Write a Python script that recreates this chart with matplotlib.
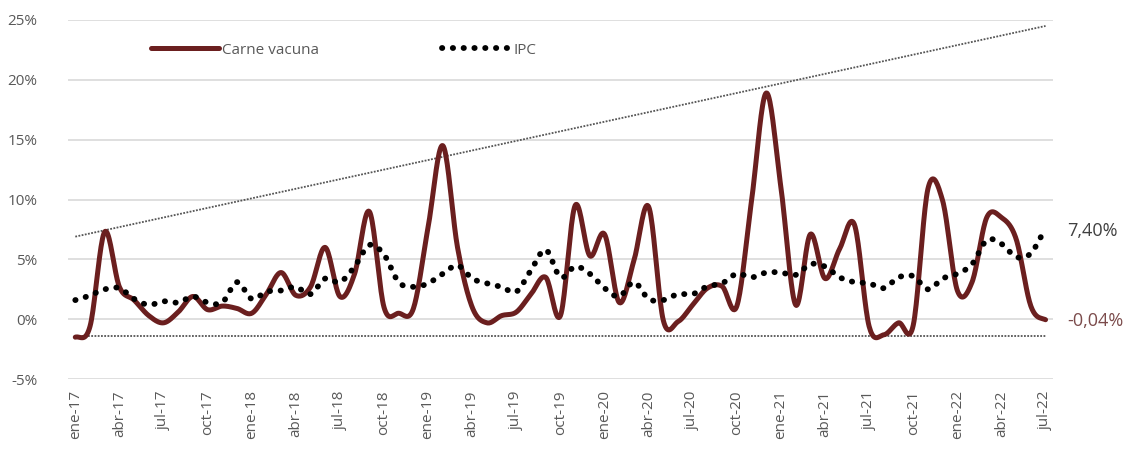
import numpy as np
import matplotlib
matplotlib.use("Agg")
import matplotlib.pyplot as plt

# monthly variation (%), ene-17 .. jul-22
months = ["ene", "feb", "mar", "abr", "may", "jun", "jul", "ago", "sep", "oct", "nov", "dic"]
labels = [f"{m}-{y}" for y in range(17, 23) for m in months][:67]

carne = [-1.5, -0.6, 7.3, 2.7, 1.6, 0.3, -0.3, 0.6, 1.9, 0.8, 1.1, 0.9,
         0.5, 2.1, 3.9, 2.0, 2.7, 6.0, 1.9, 3.8, 9.0, 1.0, 0.5, 0.9,
         7.7, 14.5, 6.0, 1.0, -0.3, 0.3, 0.6, 2.1, 3.5, 0.3, 9.5, 5.3,
         7.1, 1.4, 4.9, 9.4, -0.1, -0.2, 1.2, 2.6, 2.75, 1.1, 9.9, 18.9,
         11.0, 1.2, 7.1, 3.4, 5.9, 7.9, -0.6, -1.3, -0.3, -0.5, 10.9, 9.9,
         2.4, 3.1, 8.5, 8.5, 6.7, 1.1, -0.04]

ipc = [1.6, 2.0, 2.5, 2.6, 1.7, 1.2, 1.5, 1.4, 1.9, 1.4, 1.4, 3.1,
       1.7, 2.3, 2.4, 2.7, 2.1, 3.4, 3.1, 4.4, 6.2, 5.4, 3.1, 2.7,
       3.0, 3.8, 4.5, 3.4, 3.0, 2.7, 2.3, 4.1, 5.8, 3.5, 4.4, 3.8,
       2.6, 1.9, 3.1, 1.7, 1.6, 2.1, 2.1, 2.75, 3.0, 3.8, 3.5, 3.9,
       3.9, 3.7, 4.6, 4.4, 3.5, 3.1, 3.0, 2.6, 3.5, 3.6, 2.5, 3.4,
       3.8, 4.6, 6.6, 6.3, 5.2, 5.5, 7.4]

trend_start, trend_end = 6.9, 24.5
min_level = -1.4


def smooth(y, n=20):
    # Catmull-Rom, close to Excel's "smoothed line"
    y = np.asarray(y, dtype=float)
    p = np.concatenate([[y[0]], y, [y[-1]]])
    xs, ys = [], []
    t = np.linspace(0, 1, n, endpoint=False)
    for i in range(len(y) - 1):
        p0, p1, p2, p3 = p[i], p[i + 1], p[i + 2], p[i + 3]
        v = 0.5 * ((2 * p1) + (-p0 + p2) * t + (2 * p0 - 5 * p1 + 4 * p2 - p3) * t ** 2
                   + (-p0 + 3 * p1 - 3 * p2 + p3) * t ** 3)
        xs.append(i + t)
        ys.append(v)
    xs.append([len(y) - 1])
    ys.append([y[-1]])
    return np.concatenate(xs), np.concatenate(ys)


plt.rcParams['font.family'] = ['Open Sans', 'DejaVu Sans']
grey = '#595959'

fig = plt.figure(figsize=(11.4, 4.54), dpi=100)
ax = fig.add_axes([0.0596, 0.165, 0.864, 0.791])

x = np.arange(len(carne))
n = len(carne) - 1

ax.plot([0, n], [trend_start, trend_end], color='#555555', lw=1.3, ls=(0, (1, 0.8)), zorder=2)
ax.plot([0, n], [min_level, min_level], color='#555555', lw=1.3, ls=(0, (1, 0.8)), zorder=2)

xc, yc = smooth(carne)
ax.plot(xc, yc, color='#6b1f1f', lw=3.6, solid_capstyle='round', zorder=3, label='Carne vacuna')
xi, yi = smooth(ipc)
ax.plot(xi, yi, color='black', lw=4.2, ls=(0, (0.05, 1.8)), dash_capstyle='round',
        zorder=4, label='IPC')

ax.set_xlim(-0.5, n + 0.5)
ax.set_ylim(-5, 25)
ax.set_yticks(range(-5, 26, 5))
ax.set_yticklabels([f"{v}%" for v in range(-5, 26, 5)])
ax.set_xticks(x[::3])
ax.set_xticklabels(labels[::3], rotation=90)
ax.grid(axis='y', color='#d9d9d9', lw=1.2)
ax.set_axisbelow(True)
for s in ax.spines.values():
    s.set_visible(False)
ax.tick_params(axis='both', length=0, labelsize=11, labelcolor=grey)
ax.tick_params(axis='y', pad=22)
ax.tick_params(axis='x', pad=8)

ax.text(n + 1.5, ipc[-1], "7,40%", fontsize=13, color='#404040', va='center', ha='left')
ax.text(n + 1.5, carne[-1] - 0.1, "-0,04%", fontsize=13, color='#7b4b4b', va='center', ha='left')

leg = ax.legend(loc='upper left', bbox_to_anchor=(0.07, 0.975), ncol=2, frameon=False,
                fontsize=11, handlelength=4.5, handletextpad=0.2, columnspacing=8)
for t in leg.get_texts():
    t.set_color(grey)

fig.savefig('out.png', dpi=100)
